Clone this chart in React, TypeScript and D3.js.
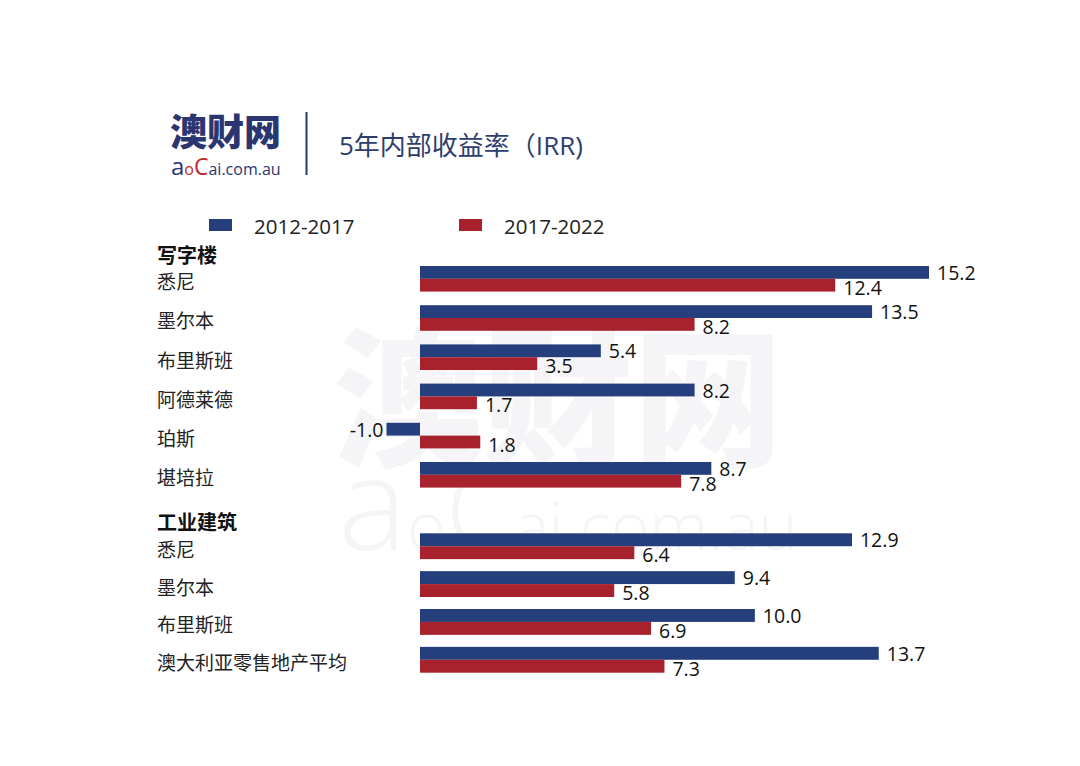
import React, { useEffect, useRef } from 'react';
import * as d3 from 'd3';

const seriesNames = ['2012-2017', '2017-2022'];
const seriesColors = ['#253e7c', '#a8222d'];

const officeTitle = '写字楼';
const officeCities = ['悉尼', '墨尔本', '布里斯班', '阿德莱德', '珀斯', '堪培拉'];
const office2012 = [15.2, 13.5, 5.4, 8.2, -1.0, 8.7];
const office2017 = [12.4, 8.2, 3.5, 1.7, 1.8, 7.8];

const industrialTitle = '工业建筑';
const industrialCities = ['悉尼', '墨尔本', '布里斯班', '澳大利亚零售地产平均'];
const industrial2012 = [12.9, 9.4, 10.0, 13.7];
const industrial2017 = [6.4, 5.8, 6.9, 7.3];

const chartTitle = '5年内部收益率（IRR)';

const WIDTH = 1080;
const HEIGHT = 766;
const FONT = "'Open Sans', 'Noto Sans CJK SC', sans-serif";
const CJK = "'Noto Sans CJK SC', 'Open Sans', sans-serif";

export default function App() {
  const svgRef = useRef<SVGSVGElement>(null);

  useEffect(() => {
    const svgElement = svgRef.current;
    if (!svgElement) return;
    const svg = d3.select(svgElement);
    svg.selectAll('*').remove();

    svg.append('rect').attr('width', WIDTH).attr('height', HEIGHT).attr('fill', '#ffffff');

    // watermark (very faint)
    svg.append('text')
      .attr('x', 558).attr('y', 455)
      .attr('text-anchor', 'middle')
      .style('font-family', CJK)
      .style('font-weight', 900)
      .style('font-size', '150px')
      .style('fill', '#f5f5f7')
      .text('澳财网');
    const wm = svg.append('text')
      .attr('x', 338).attr('y', 550)
      .style('font-family', FONT)
      .style('font-weight', 300)
      .style('font-size', '66px')
      .style('fill', '#f5f5f7');
    wm.append('tspan').style('font-size', '130px').text('a');
    wm.append('tspan').text('o');
    wm.append('tspan').style('font-size', '110px').text('C');
    wm.append('tspan').text('ai.com.au');

    // logo + title
    svg.append('text')
      .attr('x', 170).attr('y', 146)
      .style('font-family', CJK)
      .style('font-weight', 900)
      .style('font-size', '37px')
      .style('fill', '#2b3570')
      .text('澳财网');
    const sub = svg.append('text')
      .attr('x', 171).attr('y', 175)
      .style('font-family', FONT)
      .style('font-size', '16px')
      .style('fill', '#2b3570');
    sub.append('tspan').style('font-size', '24px').text('a');
    sub.append('tspan').style('fill', '#c0262d').text('o');
    sub.append('tspan').style('fill', '#c0262d').style('font-size', '23px').text('C');
    sub.append('tspan').text('ai.com.au');

    svg.append('line')
      .attr('x1', 306.5).attr('x2', 306.5)
      .attr('y1', 112).attr('y2', 175)
      .style('stroke', '#2b3570')
      .style('stroke-width', 2);

    svg.append('text')
      .attr('x', 339).attr('y', 145)
      .attr('dominant-baseline', 'central')
      .style('font-family', FONT)
      .style('font-size', '26px')
      .style('fill', '#2e3e6c')
      .text(chartTitle);

    // legend
    const legendX = [209, 459];
    seriesNames.forEach((name, i) => {
      svg.append('rect')
        .attr('x', legendX[i]).attr('y', 219)
        .attr('width', 23).attr('height', 12)
        .attr('fill', seriesColors[i]);
      svg.append('text')
        .attr('x', legendX[i] + 45).attr('y', 226)
        .attr('dominant-baseline', 'central')
        .style('font-family', FONT)
        .style('font-size', '20.5px')
        .style('fill', '#222')
        .text(name);
    });

    // shared x scale
    const xScale = d3.scaleLinear().domain([0, 15.2]).range([420, 929]);

    const groups = [
      { title: officeTitle, cities: officeCities, values: [office2012, office2017], range: [266, 487.6], pad: 0.347 },
      { title: industrialTitle, cities: industrialCities, values: [industrial2012, industrial2017], range: [533.3, 672.7], pad: 0.317 },
    ];

    groups.forEach((grp) => {
      const yScale = d3.scaleBand<string>()
        .domain(grp.cities)
        .range(grp.range as [number, number])
        .paddingInner(grp.pad)
        .paddingOuter(0);
      const sub = d3.scaleBand<string>()
        .domain(seriesNames)
        .range([0, yScale.bandwidth()]);

      // group header
      svg.append('text')
        .attr('x', 157).attr('y', grp.range[0] - 12)
        .attr('dominant-baseline', 'central')
        .style('font-family', CJK)
        .style('font-weight', 700)
        .style('font-size', '20px')
        .style('fill', '#111')
        .text(grp.title);

      grp.cities.forEach((city, ci) => {
        const y0 = yScale(city) as number;
        svg.append('text')
          .attr('x', 157).attr('y', y0 + yScale.bandwidth() / 2 + 2)
          .attr('dominant-baseline', 'central')
          .style('font-family', CJK)
          .style('font-size', '19px')
          .style('fill', '#222')
          .text(city);

        seriesNames.forEach((name, si) => {
          const v = grp.values[si][ci];
          const by = y0 + (sub(name) as number);
          const x0 = xScale(Math.min(0, v));
          const x1 = xScale(Math.max(0, v));
          svg.append('rect')
            .attr('x', x0).attr('y', by)
            .attr('width', x1 - x0).attr('height', sub.bandwidth())
            .attr('fill', seriesColors[si]);
          svg.append('text')
            .attr('x', v < 0 ? x0 - 3 : x1 + 8)
            .attr('y', by + sub.bandwidth() / 2 + (si === 1 ? 2 : 0))
            .attr('text-anchor', v < 0 ? 'end' : 'start')
            .attr('dominant-baseline', 'central')
            .style('font-family', FONT)
            .style('font-size', '19.5px')
            .style('fill', '#111')
            .text(v.toFixed(1));
        });
      });
    });
  }, []);

  return (
    <div style={{ position: 'absolute', left: 0, top: 0 }}>
      <svg ref={svgRef} width={WIDTH} height={HEIGHT} style={{ display: 'block' }} />
    </div>
  );
}
